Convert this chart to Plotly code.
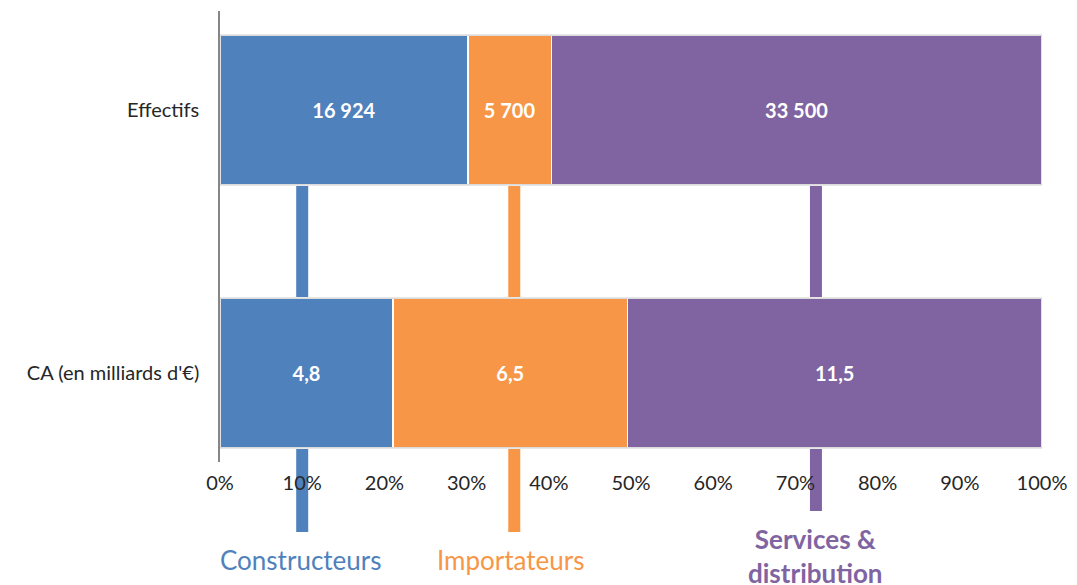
import plotly.graph_objects as go

categories = ["Effectifs", "CA (en milliards d'€)"]
series_names = ["Constructeurs", "Importateurs", "Services &<br>distribution"]
constructeurs = [16924, 4.8]
importateurs = [5700, 6.5]
services = [33500, 11.5]
colors = ["#4F81BD", "#F79646", "#8064A2"]
x_ticks = [0, 10, 20, 30, 40, 50, 60, 70, 80, 90, 100]
x_ticklabels = [f"{t}%" for t in x_ticks]
# decorative legend stems (x position in %)
stem_x = [10, 35.8, 72.5]


def fmt(v):
    if float(v).is_integer():
        return f"{int(v):,}".replace(",", " ")
    return f"{v}".replace(".", ",")


FONT = "Lato, 'Open Sans', sans-serif"
OFF = 8  # page body margin
fig = go.Figure()
for name, vals, col in zip(series_names, [constructeurs, importateurs, services], colors):
    fig.add_trace(go.Bar(
        y=categories, x=vals, orientation="h", name=name,
        marker=dict(color=col, line=dict(color="white", width=1.5)),
        width=0.57,
        text=[fmt(v) for v in vals], textposition="inside", insidetextanchor="middle",
        textfont=dict(color="white", size=20, family=FONT, weight="bold"),
        showlegend=False,
    ))

# screen pixel positions of the plot area
top_px, bot_px, left_px, right_px = 11, 462, 220, 1042
H = bot_px - top_px


def py(px):
    return (bot_px - px) / H


for xs, col, yend in zip(stem_x, colors, [532, 532, 511]):
    fig.add_shape(type="line", xref="x", yref="paper", x0=xs, x1=xs,
                  y0=py(yend), y1=py(186), layer="below",
                  line=dict(color=col, width=12))

for i in range(len(categories)):
    fig.add_shape(type="rect", xref="x", yref="y", x0=0, x1=100,
                  y0=i - 0.285, y1=i + 0.285,
                  line=dict(color="#D0D0D0", width=1.2), layer="above")

ann_y = [py(560), py(560), py(521)]
ann_x = [9.8, 35.3, 72.5]
for i, (name, col, xx, yy) in enumerate(zip(series_names, colors, ann_x, ann_y)):
    fig.add_annotation(x=xx, y=yy, xref="x", yref="paper", text=name, showarrow=False,
                       font=dict(color=col, size=26, family=FONT,
                                 weight="bold" if i == 2 else "normal"),
                       yanchor="middle" if i < 2 else "top", xanchor="center", align="center")

fig.update_layout(
    barmode="stack", barnorm="percent",
    width=1077, height=585,
    margin=dict(l=left_px - OFF, r=1077 - (right_px - OFF), t=top_px - OFF,
                b=585 - (bot_px - OFF)),
    plot_bgcolor="white", paper_bgcolor="white",
    font=dict(family=FONT, size=20, color="#262626"),
    xaxis=dict(range=[0, 100], tickvals=x_ticks, ticktext=x_ticklabels, showgrid=False,
               zeroline=False, showline=False, ticks="outside", ticklen=3,
               tickcolor="rgba(0,0,0,0)", tickfont=dict(size=20, color="#262626")),
    yaxis=dict(categoryorder="array", categoryarray=["CA (en milliards d'€)", "Effectifs"],
               range=[-0.3384, 1.3764], showgrid=False, zeroline=False, showline=True,
               linecolor="#868686", linewidth=1.5, ticks="", ticklabelstandoff=15,
               tickfont=dict(size=20, color="#262626")),
)

fig.write_html("out.html")
